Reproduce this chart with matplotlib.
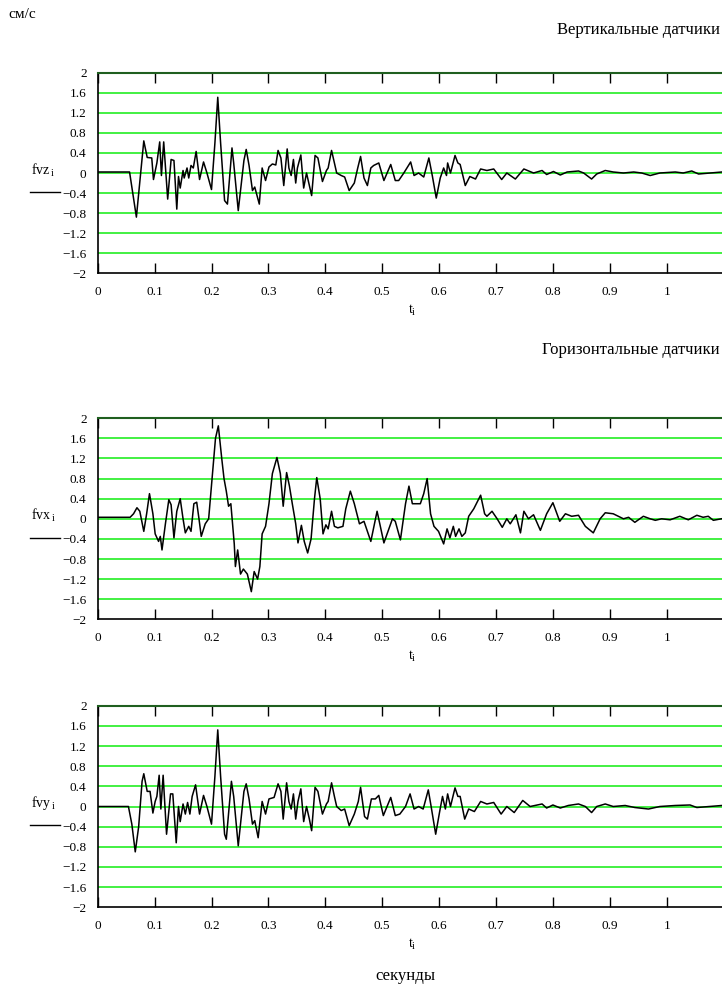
import numpy as np
import matplotlib
matplotlib.use("Agg")
import matplotlib.pyplot as plt
from matplotlib.lines import Line2D

plt.rcParams['font.family'] = ['Liberation Serif', 'DejaVu Serif']
plt.rcParams['mathtext.fontset'] = 'custom'
plt.rcParams['mathtext.rm'] = 'Liberation Serif'

# vertical sensor, z (turning points)
t_fvz = [0, 0.056, 0.068, 0.081, 0.087, 0.095, 0.098, 0.104, 0.109, 0.112, 0.116, 0.123, 0.129, 0.134,
         0.139, 0.142, 0.145, 0.150, 0.152, 0.157, 0.160, 0.164, 0.168, 0.173, 0.179, 0.186, 0.192, 0.200,
         0.206, 0.211, 0.216, 0.223, 0.228, 0.236, 0.239, 0.247, 0.257, 0.261, 0.266, 0.272, 0.276, 0.284,
         0.289, 0.295, 0.301, 0.307, 0.313, 0.317, 0.322, 0.327, 0.333, 0.336, 0.340, 0.344, 0.348, 0.351,
         0.357, 0.362, 0.367, 0.372, 0.376, 0.382, 0.387, 0.395, 0.402, 0.405, 0.411, 0.416, 0.420, 0.428,
         0.434, 0.442, 0.451, 0.457, 0.462, 0.468, 0.474, 0.480, 0.485, 0.494, 0.503, 0.515, 0.523, 0.529,
         0.538, 0.550, 0.556, 0.564, 0.573, 0.582, 0.588, 0.595, 0.602, 0.608, 0.613, 0.615, 0.620, 0.628,
         0.633, 0.637, 0.646, 0.654, 0.664, 0.673, 0.684, 0.696, 0.710, 0.719, 0.734, 0.749, 0.766, 0.781,
         0.789, 0.801, 0.813, 0.825, 0.845, 0.854, 0.868, 0.877, 0.892, 0.906, 0.924, 0.942, 0.956, 0.971,
         0.988, 1.015, 1.029, 1.044, 1.056, 1.076, 1.097]
fvz = [0.02, 0.02, -0.88, 0.64, 0.31, 0.30, -0.13, 0.2, 0.62, -0.05, 0.62, -0.52, 0.27, 0.25,
       -0.72, -0.07, -0.3, 0.05, -0.1, 0.1, -0.1, 0.15, 0.1, 0.43, -0.13, 0.22, 0.0, -0.33,
       0.6, 1.51, 0.6, -0.55, -0.62, 0.5, 0.2, -0.75, 0.25, 0.47, 0.15, -0.35, -0.28, -0.62,
       0.1, -0.15, 0.12, 0.18, 0.16, 0.45, 0.3, -0.25, 0.48, 0.1, -0.05, 0.27, -0.2, 0.1,
       0.36, -0.3, 0.0, -0.25, -0.45, 0.35, 0.3, -0.17, 0.05, 0.1, 0.45, 0.2, 0.0, -0.05,
       -0.08, -0.35, -0.2, 0.1, 0.33, -0.1, -0.25, 0.1, 0.15, 0.2, -0.15, 0.17, -0.15, -0.15,
       0.0, 0.22, -0.05, 0.0, -0.08, 0.3, -0.05, -0.5, -0.1, 0.1, -0.05, 0.2, 0.0, 0.35,
       0.2, 0.17, -0.25, -0.07, -0.12, 0.08, 0.05, 0.08, -0.13, 0.0, -0.12, 0.08, 0.0, 0.05,
       -0.03, 0.03, -0.04, 0.02, 0.04, 0.0, -0.12, -0.02, 0.05, 0.02, 0.0, 0.02, 0.0, -0.05,
       0.0, 0.02, 0.0, 0.04, -0.02, 0.0, 0.02]

# horizontal sensor, x
t_fvx = [0, 0.057, 0.063, 0.069, 0.074, 0.081, 0.086, 0.091, 0.097, 0.101, 0.107, 0.110, 0.113, 0.119,
         0.125, 0.129, 0.134, 0.139, 0.145, 0.150, 0.154, 0.160, 0.164, 0.169, 0.174, 0.178, 0.182, 0.189,
         0.195, 0.201, 0.207, 0.212, 0.218, 0.222, 0.226, 0.230, 0.234, 0.240, 0.242, 0.246, 0.251, 0.256,
         0.263, 0.270, 0.275, 0.281, 0.285, 0.289, 0.295, 0.301, 0.307, 0.315, 0.321, 0.326, 0.332, 0.337,
         0.342, 0.348, 0.352, 0.358, 0.363, 0.369, 0.375, 0.381, 0.385, 0.391, 0.396, 0.401, 0.405, 0.411,
         0.416, 0.422, 0.431, 0.436, 0.444, 0.451, 0.460, 0.468, 0.480, 0.491, 0.503, 0.518, 0.523, 0.532,
         0.541, 0.547, 0.553, 0.567, 0.573, 0.579, 0.585, 0.591, 0.599, 0.608, 0.614, 0.619, 0.625, 0.629,
         0.635, 0.640, 0.646, 0.652, 0.661, 0.673, 0.680, 0.684, 0.693, 0.702, 0.711, 0.719, 0.725, 0.735,
         0.743, 0.749, 0.757, 0.766, 0.778, 0.789, 0.800, 0.812, 0.822, 0.833, 0.845, 0.857, 0.871, 0.883,
         0.892, 0.906, 0.924, 0.933, 0.944, 0.959, 0.971, 0.980, 0.991, 1.006, 1.023, 1.038, 1.053, 1.064,
         1.073, 1.082, 1.096]
fvx = [0.03, 0.03, 0.1, 0.22, 0.15, -0.25, 0.1, 0.5, 0.1, -0.3, -0.45, -0.35, -0.62, -0.1,
       0.38, 0.28, -0.38, 0.15, 0.4, 0.0, -0.28, -0.15, -0.25, 0.3, 0.33, 0.0, -0.35, -0.1,
       0.0, 0.8, 1.6, 1.85, 1.2, 0.8, 0.55, 0.25, 0.3, -0.5, -0.95, -0.62, -1.1, -1.0,
       -1.1, -1.45, -1.05, -1.2, -0.95, -0.3, -0.15, 0.3, 0.9, 1.22, 0.9, 0.25, 0.92, 0.65,
       0.3, -0.1, -0.48, -0.13, -0.45, -0.68, -0.4, 0.4, 0.82, 0.4, -0.3, -0.12, -0.2, 0.15,
       -0.15, -0.18, -0.15, 0.2, 0.55, 0.3, -0.1, -0.05, -0.45, 0.15, -0.48, 0.0, -0.05, -0.42,
       0.3, 0.65, 0.3, 0.3, 0.5, 0.8, 0.1, -0.15, -0.25, -0.5, -0.2, -0.38, -0.15, -0.35,
       -0.2, -0.35, -0.28, 0.05, 0.2, 0.47, 0.1, 0.05, 0.15, 0.0, -0.17, 0.0, -0.1, 0.08,
       -0.28, 0.15, 0.0, 0.08, -0.23, 0.1, 0.32, -0.05, 0.1, 0.05, 0.07, -0.15, -0.28, 0.0,
       0.12, 0.1, 0.0, 0.03, -0.07, 0.05, 0.0, -0.03, 0.0, -0.02, 0.05, -0.02, 0.07, 0.03,
       0.05, -0.03, 0.0]

# horizontal sensor, y
t_fvy = [0, 0.054, 0.060, 0.066, 0.072, 0.078, 0.081, 0.087, 0.092, 0.097, 0.101, 0.104, 0.108, 0.111,
         0.115, 0.121, 0.128, 0.132, 0.138, 0.142, 0.145, 0.150, 0.154, 0.158, 0.162, 0.166, 0.172, 0.179,
         0.186, 0.192, 0.200, 0.206, 0.211, 0.216, 0.223, 0.226, 0.235, 0.239, 0.247, 0.257, 0.261, 0.266,
         0.272, 0.276, 0.282, 0.289, 0.295, 0.301, 0.310, 0.317, 0.322, 0.326, 0.332, 0.336, 0.340, 0.344,
         0.348, 0.352, 0.357, 0.362, 0.367, 0.372, 0.376, 0.382, 0.387, 0.395, 0.402, 0.405, 0.411, 0.416,
         0.420, 0.428, 0.434, 0.442, 0.451, 0.458, 0.462, 0.469, 0.474, 0.481, 0.488, 0.494, 0.502, 0.515,
         0.523, 0.531, 0.541, 0.549, 0.556, 0.564, 0.572, 0.581, 0.586, 0.594, 0.601, 0.606, 0.611, 0.615,
         0.620, 0.628, 0.633, 0.637, 0.645, 0.652, 0.662, 0.673, 0.684, 0.696, 0.709, 0.719, 0.732, 0.747,
         0.760, 0.781, 0.789, 0.800, 0.813, 0.827, 0.845, 0.857, 0.868, 0.877, 0.892, 0.906, 0.927, 0.944,
         0.968, 0.988, 1.015, 1.041, 1.053, 1.076, 1.097]
fvy = [0.0, 0.0, -0.35, -0.9, -0.4, 0.5, 0.65, 0.3, 0.3, -0.13, 0.1, 0.2, 0.62, -0.05,
       0.62, -0.55, 0.25, 0.25, -0.72, 0.0, -0.3, 0.05, -0.15, 0.08, -0.15, 0.2, 0.43, -0.15,
       0.22, 0.0, -0.35, 0.6, 1.52, 0.6, -0.55, -0.65, 0.5, 0.2, -0.78, 0.3, 0.45, 0.15,
       -0.35, -0.28, -0.62, 0.1, -0.15, 0.15, 0.18, 0.45, 0.3, -0.25, 0.47, 0.1, -0.05, 0.25,
       -0.25, 0.1, 0.35, -0.3, 0.0, -0.25, -0.48, 0.38, 0.3, -0.15, 0.05, 0.1, 0.47, 0.2,
       0.0, -0.08, -0.05, -0.38, -0.15, 0.1, 0.38, -0.2, -0.25, 0.15, 0.15, 0.22, -0.18, 0.18,
       -0.18, -0.15, 0.0, 0.25, -0.05, 0.0, -0.05, 0.33, 0.0, -0.55, -0.1, 0.2, -0.05, 0.25,
       0.0, 0.37, 0.2, 0.2, -0.25, -0.05, -0.1, 0.1, 0.05, 0.08, -0.15, 0.0, -0.12, 0.12,
       0.0, 0.05, -0.03, 0.03, -0.03, 0.02, 0.05, 0.0, -0.12, 0.0, 0.05, 0.0, 0.02, -0.02,
       -0.05, 0.0, 0.02, 0.03, -0.02, 0.0, 0.02]

panels = [(t_fvz, fvz, 'fvz'), (t_fvx, fvx, 'fvx'), (t_fvy, fvy, 'fvy')]
yticks = [-2, -1.6, -1.2, -0.8, -0.4, 0, 0.4, 0.8, 1.2, 1.6, 2]
ytick_labels = ['\u22122', '\u22121.6', '\u22121.2', '\u22120.8', '\u22120.4', '0',
                '0.4', '0.8', '1.2', '1.6', '2']
xticks = [0, 0.1, 0.2, 0.3, 0.4, 0.5, 0.6, 0.7, 0.8, 0.9, 1]
xtick_labels = ['0', '0.1', '0.2', '0.3', '0.4', '0.5', '0.6', '0.7', '0.8', '0.9', '1']

W, H = 722, 988
fig = plt.figure(figsize=(W / 100, H / 100), dpi=100)

# axes boxes in pixels: top, bottom
boxes = [(72.7, 273.3), (418.3, 619.3), (705.7, 907.3)]
left_px = 97.7
px_per_unit = 569.0
xmax = 1.1

for (top, bot), (t, v, name) in zip(boxes, panels):
    ax = fig.add_axes([left_px / W, 1 - bot / H, xmax * px_per_unit / W, (bot - top) / H])
    for y in yticks[1:-1]:
        ax.axhline(y, color='#22ee22', lw=1.2, zorder=1)
    ax.plot(t, v, color='black', lw=1.1, zorder=3)
    ax.set_xlim(0, xmax)
    ax.set_ylim(-2, 2)
    ax.set_yticks(yticks)
    ax.set_yticklabels(ytick_labels)
    ax.set_xticks(xticks)
    ax.set_xticklabels(xtick_labels)
    ax.tick_params(axis='y', length=0, pad=8, labelsize=9.5)
    ax.tick_params(axis='x', direction='in', length=7, width=1, top=True, pad=9, labelsize=9.5)
    ax.spines['right'].set_visible(False)
    ax.spines['top'].set_color('#1f5f1f')
    ax.spines['top'].set_linewidth(1.5)
    ax.spines['bottom'].set_linewidth(1.2)
    ax.spines['left'].set_linewidth(1.2)
    # variable name with the fraction bar under it
    zero_y = 1 - (top + bot) / 2 / H
    fig.text(43 / W, zero_y + 3 / H, r'$\mathrm{%s_{\,i}}$' % name, ha='center', va='center', fontsize=10)
    fig.add_artist(Line2D([30 / W, 60 / W], [zero_y - 19 / H, zero_y - 19 / H], color='black', lw=1.0))
    fig.text(412 / W, 1 - (bot + 37) / H, r'$\mathrm{t_{i}}$', ha='center', va='center', fontsize=10)

fig.text(8 / W, 1 - 15 / H, 'см/с', ha='left', va='center', fontsize=11)
fig.text(720 / W, 1 - 30 / H, 'Вертикальные датчики', ha='right', va='center', fontsize=12)
fig.text(720 / W, 1 - 350 / H, 'Горизонтальные датчики', ha='right', va='center', fontsize=12)
fig.text(405 / W, 1 - 976 / H, 'секунды', ha='center', va='center', fontsize=12)

fig.savefig('out.png', dpi=100)
